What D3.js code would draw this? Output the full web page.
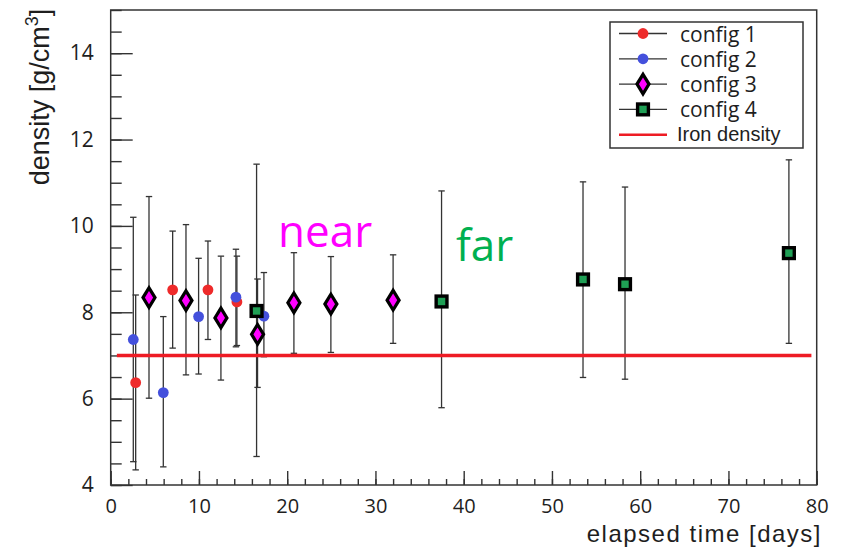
<!DOCTYPE html>
<html>
<head>
<meta charset="utf-8">
<script src="https://cdn.jsdelivr.net/npm/d3@7"></script>
<style>
  html, body { margin: 0; padding: 0; background: #fff; }
  svg { display: block; }
</style>
</head>
<body>
<svg id="chart" width="851" height="547"></svg>
<script>
// Measured density vs elapsed time, four configurations
const config1X  = [2.83, 7.02, 11.02, 14.3];
const config1Y  = [6.37, 8.52, 8.52, 8.24];
const config1Lo = [4.35, 7.17, 7.37, 7.23];
const config1Hi = [8.40, 9.88, 9.65, 9.30];

const config2X  = [2.56, 5.96, 9.96, 14.19, 17.36];
const config2Y  = [7.37, 6.14, 7.90, 8.35, 7.91];
const config2Lo = [4.54, 4.42, 6.57, 7.20, 6.97];
const config2Hi = [10.20, 7.90, 9.25, 9.46, 8.92];

const config3X  = [4.34, 8.53, 12.49, 16.64, 20.76, 24.95, 32.0];
const config3Y  = [8.34, 8.27, 7.87, 7.49, 8.22, 8.19, 8.28];
const config3Lo = [6.01, 6.55, 6.43, 6.26, 7.05, 7.07, 7.28];
const config3Hi = [10.68, 10.03, 9.30, 8.77, 9.38, 9.29, 9.33];

const config4X  = [16.53, 37.49, 53.52, 58.28, 76.85];
const config4Y  = [8.03, 8.25, 8.76, 8.65, 9.37];
const config4Lo = [4.66, 5.79, 6.49, 6.45, 7.28];
const config4Hi = [11.43, 10.81, 11.02, 10.90, 11.53];

const ironDensity = 7.0;
const ironRange = [0.7, 79.4];

const xMajorTicks = [0, 10, 20, 30, 40, 50, 60, 70, 80];
const yMajorTicks = [4, 6, 8, 10, 12, 14];
const legendLabels = ["config 1", "config 2", "config 3", "config 4", "Iron density"];
const regionLabels = ["near", "far"];

// ---- layout ----
const svg = d3.select("#chart");
const plotLeft = 110.7, plotRight = 816.7, plotTop = 10, plotBottom = 485;
const x = d3.scaleLinear().domain([0, 80]).range([plotLeft, plotRight]);
const y = d3.scaleLinear().domain([4, 15]).range([plotBottom, plotTop]);
const ink = "#333";
const tickFont = "'Open Sans', sans-serif";
const titleFont = "'Liberation Sans', Arial, sans-serif";

function zip(xs, ys, lo, hi) {
  return xs.map((v, i) => ({ x: v, y: ys[i], lo: lo[i], hi: hi[i] }));
}
const series = [
  { data: zip(config1X, config1Y, config1Lo, config1Hi), shape: "circle", fill: "#ee2a2a" },
  { data: zip(config2X, config2Y, config2Lo, config2Hi), shape: "circle", fill: "#4450dc" },
  { data: zip(config3X, config3Y, config3Lo, config3Hi), shape: "diamond", fill: "#ff00ff" },
  { data: zip(config4X, config4Y, config4Lo, config4Hi), shape: "square", fill: "#1f9f55" }
];

// ---- axes (ticks pointing inward) ----
function styleAxis(size) {
  return g => {
    g.selectAll("line").attr("stroke", ink).attr("stroke-width", 1.4);
    g.selectAll("path").remove();
    g.selectAll("text").attr("fill", "#1e1e1e").style("font-family", tickFont).style("font-size", size + "px");
  };
}

svg.append("g").attr("transform", `translate(0,${plotBottom})`)
  .call(d3.axisBottom(x).tickValues(d3.range(0, 81, 2)).tickSize(-6).tickFormat(""))
  .call(styleAxis(20));
svg.append("g").attr("transform", `translate(0,${plotBottom})`)
  .call(d3.axisBottom(x).tickValues(xMajorTicks).tickSize(-14).tickPadding(14).tickFormat(d3.format("d")))
  .call(styleAxis(20));

svg.append("g").attr("transform", `translate(${plotLeft},0)`)
  .call(d3.axisLeft(y).tickValues(d3.range(4, 15.01, 0.5)).tickSize(-11).tickFormat(""))
  .call(styleAxis(21));
svg.append("g").attr("transform", `translate(${plotLeft},0)`)
  .call(d3.axisLeft(y).tickValues(yMajorTicks).tickSize(-22).tickPadding(17).tickFormat(d3.format("d")))
  .call(styleAxis(21));

// frame
svg.append("rect")
  .attr("x", plotLeft).attr("y", plotTop)
  .attr("width", plotRight - plotLeft).attr("height", plotBottom - plotTop)
  .attr("fill", "none").attr("stroke", ink).attr("stroke-width", 1.5);

// axis titles
svg.append("text")
  .attr("x", 822).attr("y", 542)
  .attr("text-anchor", "end")
  .attr("fill", "#1e1e1e")
  .style("font-family", titleFont)
  .style("font-size", "24px")
  .style("letter-spacing", "1.5px")
  .text("elapsed time [days]");

const yTitle = svg.append("text")
  .attr("transform", "translate(49,97) rotate(-90)")
  .attr("text-anchor", "middle")
  .attr("fill", "#1e1e1e")
  .style("font-family", titleFont)
  .style("font-size", "27px");
yTitle.append("tspan").text("density [g/cm");
yTitle.append("tspan").attr("dy", -11).style("font-size", "18px").text("3");
yTitle.append("tspan").attr("dy", 11).text("]");

// ---- error bars ----
const capHalf = 3.2;
const bars = svg.append("g").attr("stroke", ink).attr("stroke-width", 1.3);
series.forEach(s => {
  s.data.forEach(d => {
    const px = x(d.x);
    bars.append("line").attr("x1", px).attr("x2", px).attr("y1", y(d.lo)).attr("y2", y(d.hi));
    bars.append("line").attr("x1", px - capHalf).attr("x2", px + capHalf).attr("y1", y(d.lo)).attr("y2", y(d.lo));
    bars.append("line").attr("x1", px - capHalf).attr("x2", px + capHalf).attr("y1", y(d.hi)).attr("y2", y(d.hi));
  });
});

// iron density reference line
svg.append("line")
  .attr("x1", x(ironRange[0])).attr("x2", x(ironRange[1]))
  .attr("y1", y(ironDensity)).attr("y2", y(ironDensity))
  .attr("stroke", "#ee1c24").attr("stroke-width", 3.5);

// ---- markers ----
function drawMarker(g, shape, fill, cx, cy) {
  if (shape === "circle") {
    g.append("circle").attr("cx", cx).attr("cy", cy).attr("r", 5.4).attr("fill", fill);
  } else if (shape === "diamond") {
    const w = 6, h = 9.8;
    g.append("path")
      .attr("d", `M${cx},${cy - h}L${cx + w},${cy}L${cx},${cy + h}L${cx - w},${cy}Z`)
      .attr("fill", fill).attr("stroke", "#000").attr("stroke-width", 3.2)
      .attr("stroke-linejoin", "miter");
  } else {
    const a = 5.4;
    g.append("rect").attr("x", cx - a).attr("y", cy - a).attr("width", 2 * a).attr("height", 2 * a)
      .attr("fill", fill).attr("stroke", "#000").attr("stroke-width", 3.4);
  }
}
const marks = svg.append("g");
series.forEach(s => s.data.forEach(d => drawMarker(marks, s.shape, s.fill, x(d.x), y(d.y))));

// ---- region labels ----
svg.append("text").attr("x", 278).attr("y", 247)
  .attr("fill", "#ff00ff").style("font-family", tickFont).style("font-size", "44px")
  .text(regionLabels[0]);
svg.append("text").attr("x", 456).attr("y", 261)
  .attr("fill", "#00b050").style("font-family", tickFont).style("font-size", "44px")
  .text(regionLabels[1]);

// ---- legend ----
const legend = svg.append("g");
legend.append("rect").attr("x", 610).attr("y", 22).attr("width", 193).attr("height", 126)
  .attr("fill", "#fff").attr("stroke", ink).attr("stroke-width", 1.5);
legendLabels.forEach((label, i) => {
  const ry = 33.5 + i * 25.3;
  if (i < 4) {
    legend.append("line").attr("x1", 619).attr("x2", 667).attr("y1", ry).attr("y2", ry)
      .attr("stroke", ink).attr("stroke-width", 1.3);
    drawMarker(legend, series[i].shape, series[i].fill, 643, ry);
    legend.append("text").attr("x", 680).attr("y", ry + 8)
      .attr("fill", "#1e1e1e").style("font-family", tickFont).style("font-size", "21px")
      .text(label);
  } else {
    legend.append("line").attr("x1", 619).attr("x2", 667).attr("y1", ry).attr("y2", ry)
      .attr("stroke", "#ee1c24").attr("stroke-width", 2.5);
    legend.append("text").attr("x", 677).attr("y", ry + 6)
      .attr("fill", "#1e1e1e").style("font-family", titleFont).style("font-size", "20px")
      .text(label);
  }
});
</script>
</body>
</html>
